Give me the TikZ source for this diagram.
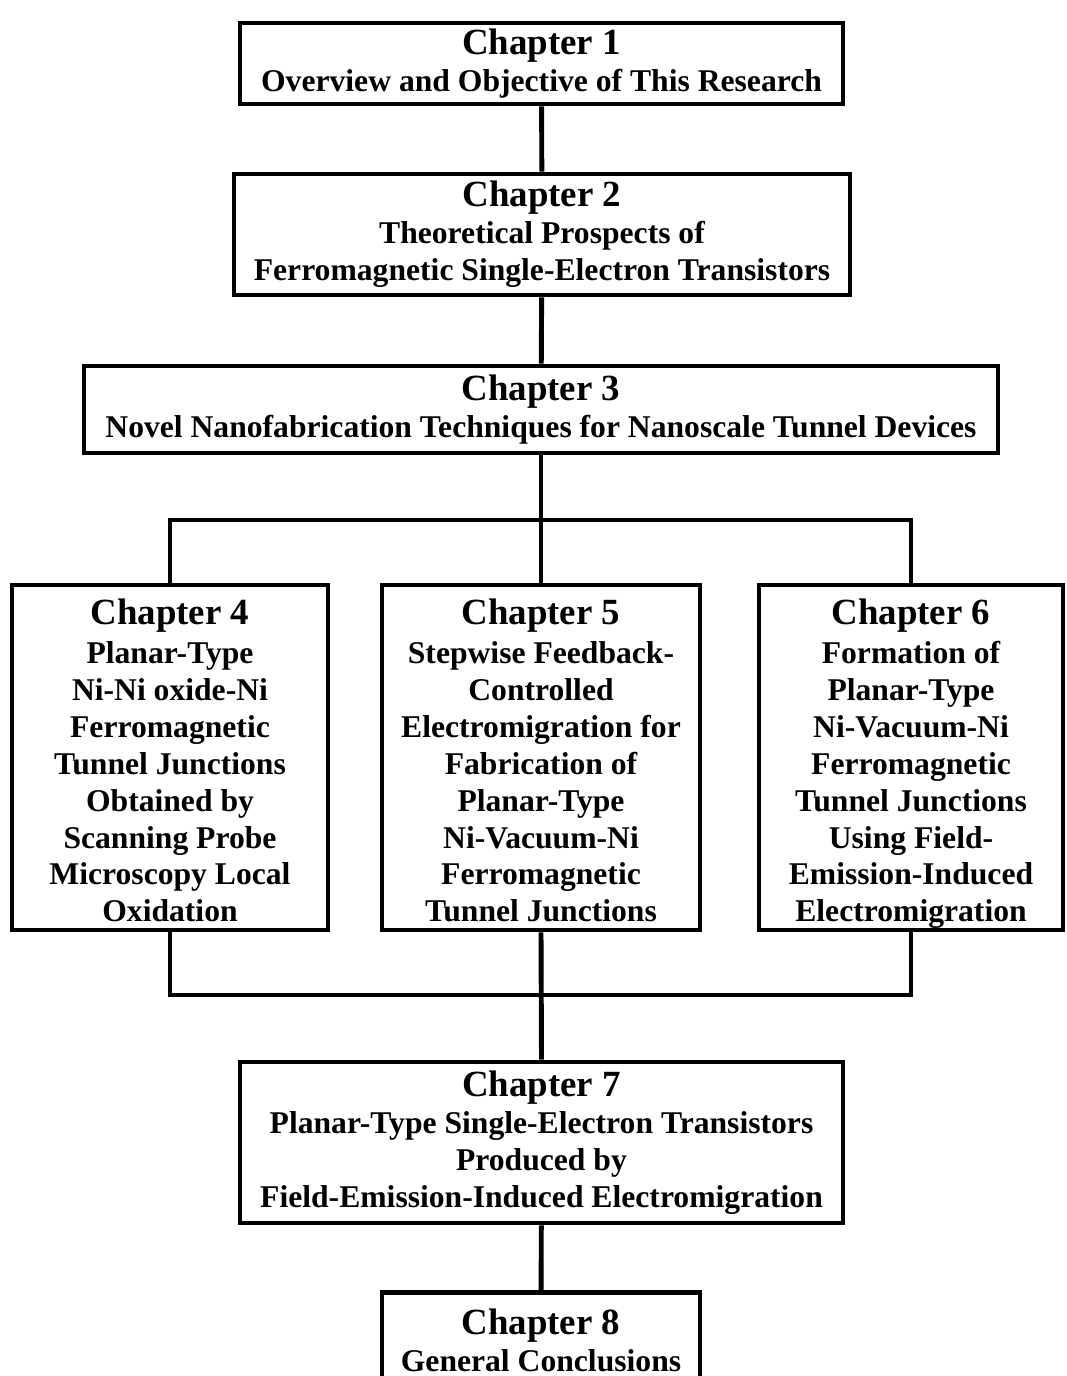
\documentclass[tikz,border=0pt]{standalone}
\usepackage{fontspec}
\setmainfont{Liberation Serif}
\usetikzlibrary{positioning}
\newcommand{\chaptitle}[1]{{\fontsize{21}{24}\selectfont #1}}

\begin{document}
\begin{tikzpicture}[line width=2.8pt,
    chapbox/.style={rectangle, draw, align=center, inner sep=0pt,
        font=\fontsize{18}{21}\selectfont\bfseries}]

    \useasboundingbox (0,0) rectangle (21.32,-27.52);

    \node[chapbox, minimum width=12.06cm, minimum height=1.62cm] (ch1) at (10.83,-1.27)
        {\chaptitle{Chapter 1}\\Overview and Objective of This Research};
    \node[chapbox, minimum width=12.32cm, minimum height=2.42cm] (ch2) at (10.84,-4.69)
        {\chaptitle{Chapter 2}\\Theoretical Prospects of\\Ferromagnetic Single-Electron Transistors};
    \node[chapbox, minimum width=18.28cm, minimum height=1.74cm] (ch3) at (10.82,-8.19)
        {\chaptitle{Chapter 3}\\Novel Nanofabrication Techniques for Nanoscale Tunnel Devices};

    \node[chapbox, minimum width=6.32cm, minimum height=6.9cm] (ch4) at (3.4,-15.15)
        {\chaptitle{\rule{0pt}{22pt}Chapter 4}\\[1pt]Planar-Type\\Ni-Ni oxide-Ni\\Ferromagnetic\\Tunnel Junctions\\Obtained by\\Scanning Probe\\Microscopy Local\\Oxidation\vphantom{g}};
    \node[chapbox, minimum width=6.36cm, minimum height=6.9cm] (ch5) at (10.82,-15.15)
        {\chaptitle{\rule{0pt}{22pt}Chapter 5}\\[1pt]Stepwise Feedback-\\Controlled\\Electromigration for\\Fabrication of\\Planar-Type\\Ni-Vacuum-Ni\\Ferromagnetic\\Tunnel Junctions\vphantom{g}};
    \node[chapbox, minimum width=6.08cm, minimum height=6.9cm] (ch6) at (18.22,-15.15)
        {\chaptitle{\rule{0pt}{22pt}Chapter 6}\\[1pt]Formation of\\Planar-Type\\Ni-Vacuum-Ni\\Ferromagnetic\\Tunnel Junctions\\Using Field-\\Emission-Induced\\Electromigration};

    \node[chapbox, minimum width=12.06cm, minimum height=3.22cm] (ch7) at (10.83,-22.85)
        {\chaptitle{Chapter 7}\\Planar-Type Single-Electron Transistors\\Produced by\\Field-Emission-Induced Electromigration};
    \node[chapbox, minimum width=6.36cm, minimum height=1.9cm, anchor=north] (ch8) at (10.82,-25.8)
        {\chaptitle{Chapter 8}\\General Conclusions};

    \coordinate (split) at (10.82,-10.4);
    \coordinate (join) at (10.82,-19.9);

    \draw (ch1) -- (ch2);
    \draw (ch2) -- (ch3);
    \draw (ch3.south) -- (ch5.north);
    \draw (ch4.north) |- (split) -| (ch6.north);
    \draw (ch4.south) |- (join) -| (ch6.south);
    \draw (ch5.south) -- (ch7.north);
    \draw (ch7) -- (ch8);
\end{tikzpicture}
\end{document}
